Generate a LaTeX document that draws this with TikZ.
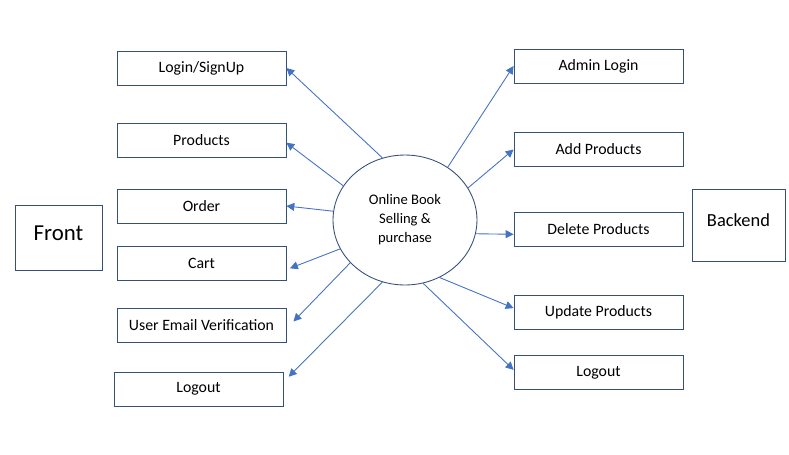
\documentclass[tikz,border=0pt]{standalone}
\usepackage{fontspec}
\setmainfont{Carlito}
\usetikzlibrary{positioning}
\usetikzlibrary{shapes.geometric}
\usetikzlibrary{arrows.meta}
\definecolor{boxline}{RGB}{55,80,120}
\definecolor{arrowline}{RGB}{68,114,196}

\begin{document}
\begin{tikzpicture}[x=0.02cm,y=-0.02cm,
		item/.style={draw=boxline, line width=0.5pt, minimum width=3.38cm, minimum height=0.68cm, inner sep=1pt, font=\fontsize{9}{11}\selectfont},
		side/.style={draw=boxline, line width=0.5pt, inner sep=1pt, text depth=5.5pt},
		flow/.style={draw=arrowline, line width=0.5pt, -{Triangle[length=4.5pt,width=4.5pt]}}]
				\useasboundingbox (0,0) rectangle (789,454);
				\node[ellipse, draw=boxline, line width=0.5pt, minimum width=2.88cm, minimum height=2.6cm, align=center, font=\fontsize{8.3}{10.8}\selectfont] (hub) at (405,220) {Online Book\\Selling \&\\purchase};
				
				\node[side, minimum width=1.74cm, minimum height=1.3cm, font=\fontsize{13}{15}\selectfont] (front) at (58.5,237.5) {Front};
				\node[side, minimum width=1.86cm, minimum height=1.44cm, font=\fontsize{10.5}{13}\selectfont] (back) at (738.5,225) {Backend};
				
				\node[item] (login) at (201.5,68) {Login/SignUp};
				\node[item] (prod) at (201.5,140) {Products};
				\node[item] (order) at (201.5,206) {Order};
				\node[item] (cart) at (201.5,263) {Cart};
				\node[item] (mail) at (201.5,325) {User Email Verification};
				\node[item] (outl) at (198.5,389) {Logout};
				
				\node[item] (admin) at (598.5,66) {Admin Login};
				\node[item] (add) at (598.5,149.5) {Add Products};
				\node[item] (del) at (598.5,229) {Delete Products};
				\node[item] (upd) at (598.5,312.5) {Update Products};
				\node[item] (outr) at (598.5,372.5) {Logout};
				
				\draw[flow] (hub.110) -- (login.east);
				\draw[flow] (hub.151) -- ([yshift=-1.5pt]prod.east);
				\draw[flow] (hub.173) -- (order.east);
				\draw[flow] (hub.204) -- ([xshift=2pt,yshift=-3pt]cart.east);
				\draw[flow] (hub.218) -- ([xshift=4pt,yshift=2pt]mail.east);
				\draw[flow] (hub.250) -- ([xshift=3pt,yshift=7pt]outl.east);
				\draw[flow] (hub.51) -- (admin.west);
				\draw[flow] (hub.27) -- (add.west);
				\draw[flow] (hub.349) -- ([yshift=-3pt]del.west);
				\draw[flow] (hub.301) -- ([yshift=2.5pt]upd.west);
				\draw[flow] (hub.286) -- ([yshift=1.5pt]outr.west);
			\end{tikzpicture}
\end{document}
